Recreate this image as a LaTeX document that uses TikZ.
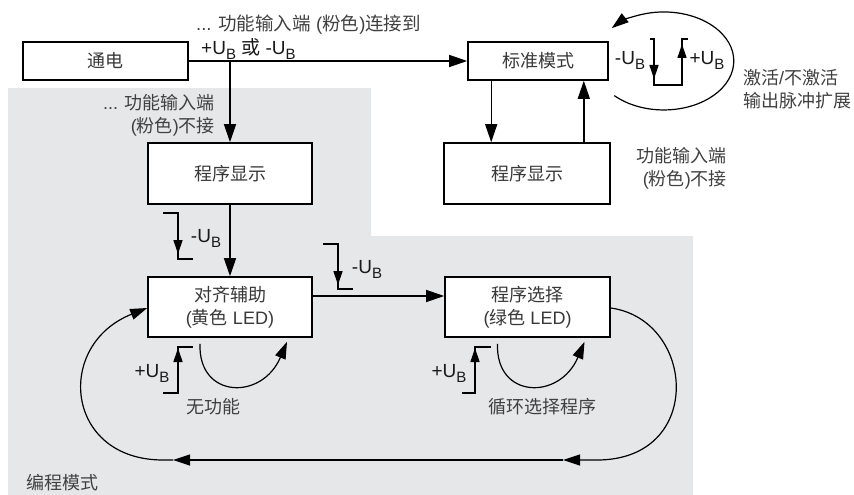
\documentclass[tikz,border=0pt]{standalone}
\usepackage{fontspec}
\setmainfont{Liberation Sans}
\newfontfamily\cjk{Noto Sans CJK SC}
\usetikzlibrary{arrows.meta,calc}

\definecolor{progbg}{RGB}{230,231,233}
\newcommand{\zh}[1]{{\cjk #1}}
\newcommand{\ub}{U\raisebox{-5pt}{\fontsize{15}{15}\selectfont B}}

\begin{document}
\begin{tikzpicture}[x=1pt,y=-1pt,font=\fontsize{18}{23}\selectfont,
  modebox/.style={draw,line width=1.6pt,fill=white,inner sep=0pt,text=black!78,align=center},
  lbl/.style={inner sep=0pt,text=black!75},
  ublbl/.style={inner sep=0pt,text=black!90,font=\fontsize{19}{22}\selectfont},
  conn/.style={line width=1.4pt,-{Triangle[length=18pt,width=12pt]}},
  sig/.style={line width=1.3pt},
  sigarr/.style={sig,-{Triangle[length=14pt,width=9pt]}},
  arcline/.style={line width=1.2pt,-{Triangle[length=17pt,width=11pt]}}]

  % Fixed page size
  \useasboundingbox (0,0) rectangle (854,495);

  % Programming mode background
  \fill[progbg] (8,88) -- (371,88) -- (371,236) -- (693,236)
        -- (693,495) -- (8,495) -- cycle;
  \node[lbl] (progtxt) at (63,483) {\zh{编程模式}};

  % Mode boxes
  \node[modebox,minimum width=165pt,minimum height=38pt] (power) at (105.5,61) {\zh{通电}};
  \node[modebox,minimum width=140pt,minimum height=38pt] (std)   at (538,61)   {\zh{标准模式}};
  \node[modebox,minimum width=164pt,minimum height=61pt] (showL) at (230,173.5) {\zh{程序显示}};
  \node[modebox,minimum width=166pt,minimum height=61pt] (showR) at (527,173.5) {\zh{程序显示}};
  \node[modebox,minimum width=164pt,minimum height=60pt] (aid)   at (230,307)  {\zh{对齐辅助}\\(\zh{黄色} LED)};
  \node[modebox,minimum width=165pt,minimum height=60pt] (sel)   at (527.5,307) {\zh{程序选择}\\(\zh{绿色} LED)};

  % Main connectors
  \coordinate (split) at (power.east -| showL.north);
  \draw[conn] (power.east) -- (std.west);
  \draw[conn] (split) -- (showL.north);
  \draw[conn] (showL.south) -- (aid.north);
  \draw[conn] ([yshift=11pt]aid.east) -- ([yshift=11pt]sel.west);
  \draw[conn] ([xshift=24pt]std.south west) -- ([xshift=24pt]std.south west |- showR.north);
  \draw[conn] ([xshift=-25pt]std.south east |- showR.north) -- ([xshift=-25pt]std.south east);

  % Labels along the connectors
  \node[lbl,anchor=west,font=\fontsize{18.5}{23}\selectfont] (wiredtxt) at (196,25) {... \zh{功能输入端} (\zh{粉色})\zh{连接到}};
  \node[ublbl,anchor=west] (wiredpol) at (201,49) {+\ub{} \zh{或} -\ub};
  \node[lbl,align=right,anchor=east] (openL) at (215,115) {... \zh{功能输入端}\\(\zh{粉色})\zh{不接}};
  \node[lbl,align=right,anchor=east] (openR) at (727,168.5) {\zh{功能输入端}\\(\zh{粉色})\zh{不接}};

  % Pulse extension toggle loop
  \draw[arcline] ([shift={(5.5pt,-34.6pt)}]std.east)
        arc[start angle=135,end angle=-138,x radius=70,y radius=49];
  \draw[sigarr] (650,39) -- (654,39) -- (654,79);
  \draw[sig] (654,75) -- (654,85) -- (682,85) -- (682,60);
  \draw[sigarr] (682,62) -- (682,44);
  \draw[sig] (682,48) -- (682,39) -- (688,39);
  \node[ublbl] (pulseneg) at (630,60) {-\ub};
  \node[ublbl] (pulsepos) at (707,60) {+\ub};
  \node[lbl,align=left,anchor=west] (pulsetxt) at (743,89) {\zh{激活}/\zh{不激活}\\\zh{输出脉冲扩展}};

  % Falling edges
  \draw[sigarr] (163,213) -- (178,213) -- (178,254);
  \draw[sig] (178,250) |- (193,259);
  \node[ublbl] (negA) at (206,238) {-\ub};
  \draw[sigarr] (323,244) -- (338,244) -- (338,285);
  \draw[sig] (338,281) |- (353,289);
  \node[ublbl] (negB) at (367,269) {-\ub};

  % Rising edges and self loops
  \draw[sigarr] (163,393) -- (178,393) -- (178,348);
  \draw[sig] (178,352) |- (193,347);
  \node[ublbl] (posA) at (152,373) {+\ub};
  \draw[arcline] ($(aid.south)+(-30,6)$) .. controls +(-2,55) and +(-25,59) .. ($(aid.south)+(57,4)$);
  \node[lbl] (nofunc) at (213,407) {\zh{无功能}};

  \draw[sigarr] (462,393) -- (475,393) -- (475,348);
  \draw[sig] (475,352) |- (491,347);
  \node[ublbl] (posB) at (449,373) {+\ub};
  \draw[arcline] ($(sel.south)+(-30,6)$) .. controls +(-2,55) and +(-25,59) .. ($(sel.south)+(57,4)$);
  \node[lbl] (cycle) at (542,407) {\zh{循环选择程序}};

  % Return loop from selection to alignment
  \coordinate (loopR) at (597,460);
  \coordinate (midR)  at (563,460);
  \coordinate (midL)  at (173,460);
  \coordinate (loopL) at (163,460);
  \draw[arcline] ($(sel.east)+(0,1)$) .. controls +(85,12) and +(108,0) .. (loopR) -- (midR);
  \draw[arcline] (midR) -- (midL);
  \draw[arcline] (midL) -- (loopL) .. controls +(-98,0) and +(-93,37) .. ($(aid.west)+(0,1)$);

\end{tikzpicture}
\end{document}
